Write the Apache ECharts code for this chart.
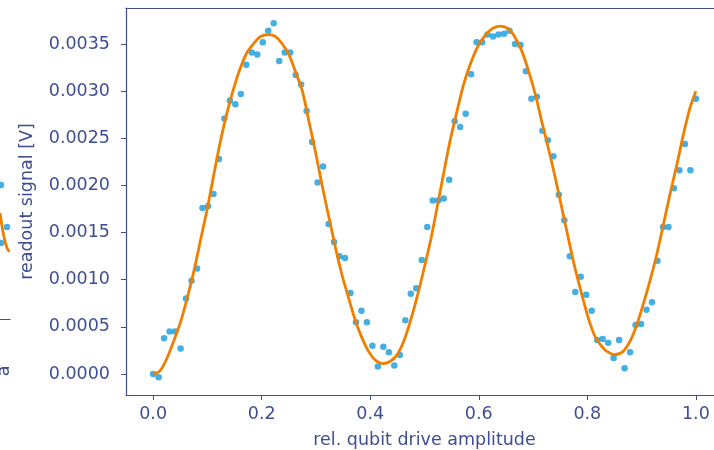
<!DOCTYPE html>
<html>
<head>
<meta charset="utf-8">
<script src="https://cdn.jsdelivr.net/npm/echarts@6/dist/echarts.min.js"></script>
<style>
html, body { margin: 0; padding: 0; background: #fff; }
#chart { width: 714px; height: 450px; }
</style>
</head>
<body>
<div id="chart"></div>
<script>
// measured points (amplitude, signal)
const ampX = [
  0, 0.0101, 0.0202, 0.0303, 0.0404, 0.0505, 0.0606, 0.0707, 0.0808, 0.0909,
  0.1010, 0.1111, 0.1212, 0.1313, 0.1414, 0.1515, 0.1616, 0.1717, 0.1818, 0.1919,
  0.2020, 0.2121, 0.2222, 0.2323, 0.2424, 0.2525, 0.2626, 0.2727, 0.2828, 0.2929,
  0.3030, 0.3131, 0.3232, 0.3333, 0.3434, 0.3535, 0.3636, 0.3737, 0.3838, 0.3939,
  0.4040, 0.4141, 0.4242, 0.4343, 0.4444, 0.4545, 0.4646, 0.4747, 0.4848, 0.4949,
  0.5051, 0.5152, 0.5253, 0.5354, 0.5455, 0.5556, 0.5657, 0.5758, 0.5859, 0.5960,
  0.6061, 0.6162, 0.6263, 0.6364, 0.6465, 0.6566, 0.6667, 0.6768, 0.6869, 0.6970,
  0.7071, 0.7172, 0.7273, 0.7374, 0.7475, 0.7576, 0.7677, 0.7778, 0.7879, 0.7980,
  0.8081, 0.8182, 0.8283, 0.8384, 0.8485, 0.8586, 0.8687, 0.8788, 0.8889, 0.8990,
  0.9091, 0.9192, 0.9293, 0.9394, 0.9495, 0.9596, 0.9697, 0.9798, 0.9899, 1.0
];
const signal = [
  0.00000, -0.000035, 0.00038, 0.00045, 0.00045, 0.00027, 0.00080, 0.00099, 0.00112, 0.00176,
  0.00178, 0.00191, 0.00228, 0.00271, 0.00290, 0.00286, 0.00297, 0.00328, 0.00341, 0.00339,
  0.00352, 0.00364, 0.00372, 0.00332, 0.00341, 0.00341, 0.00317, 0.00307, 0.00279, 0.00246,
  0.00203, 0.00220, 0.00159, 0.00140, 0.00125, 0.00123, 0.00086, 0.00055, 0.00067, 0.00055,
  0.00030, 0.00008, 0.00029, 0.00023, 0.00009, 0.00020, 0.00057, 0.00085, 0.00091, 0.00121,
  0.00156, 0.00184, 0.00184, 0.00186, 0.00206, 0.00268, 0.00262, 0.00276, 0.00318, 0.00352,
  0.00352, 0.00360, 0.00358, 0.00360, 0.00361, 0.00364, 0.00350, 0.00349, 0.00321, 0.00292,
  0.00294, 0.00258, 0.00248, 0.00231, 0.00190, 0.00163, 0.00125, 0.00087, 0.00103, 0.00084,
  0.00067, 0.00036, 0.00037, 0.00033, 0.00017, 0.00036, 0.00006, 0.00023, 0.00052, 0.00053,
  0.00068, 0.00076, 0.00120, 0.00156, 0.00156, 0.00197, 0.00216, 0.00244, 0.00216, 0.00292
];

// fitted curve
const fitX = [
  0.000, 0.012, 0.023, 0.038, 0.051, 0.063, 0.075, 0.087, 0.100, 0.112,
  0.124, 0.137, 0.149, 0.161, 0.173, 0.186, 0.198, 0.213, 0.225, 0.238,
  0.250, 0.262, 0.275, 0.287, 0.299, 0.311, 0.324, 0.336, 0.348, 0.360,
  0.373, 0.385, 0.397, 0.409, 0.424, 0.437, 0.449, 0.462, 0.474, 0.486,
  0.498, 0.511, 0.523, 0.535, 0.547, 0.560, 0.572, 0.584, 0.597, 0.609,
  0.624, 0.639, 0.655, 0.667, 0.679, 0.692, 0.704, 0.716, 0.728, 0.741,
  0.753, 0.765, 0.777, 0.790, 0.802, 0.814, 0.827, 0.836, 0.851, 0.866,
  0.879, 0.891, 0.903, 0.915, 0.928, 0.940, 0.952, 0.965, 0.977, 0.989, 1.000
];
const fitY = [
  0.00000, 0.00003, 0.000135, 0.00035, 0.00056, 0.00081, 0.00109, 0.00141, 0.00176, 0.00212,
  0.00247, 0.00279, 0.00304, 0.00325, 0.00341, 0.00351, 0.00358, 0.00360, 0.00358, 0.00350,
  0.00339, 0.00321, 0.00300, 0.00268, 0.00236, 0.00201, 0.00166, 0.00134, 0.00105, 0.00081,
  0.00056, 0.00038, 0.00024, 0.00015, 0.00011, 0.000135, 0.00020, 0.00035, 0.00056, 0.00081,
  0.00109, 0.00141, 0.00176, 0.00212, 0.00247, 0.00279, 0.00307, 0.00328, 0.00346, 0.00357,
  0.00366, 0.00369, 0.00366, 0.00357, 0.00343, 0.00321, 0.00297, 0.00268, 0.00240, 0.00208,
  0.00176, 0.00144, 0.00113, 0.00084, 0.00059, 0.00040, 0.00029, 0.00024, 0.000205, 0.00024,
  0.00035, 0.00052, 0.00074, 0.00098, 0.00127, 0.00158, 0.00190, 0.00222, 0.00254, 0.00282, 0.00300
];

const xTicks = [0, 0.2, 0.4, 0.6, 0.8, 1.0];
const yTicks = [0, 0.0005, 0.0010, 0.0015, 0.0020, 0.0025, 0.0030, 0.0035];

// bit of the neighbouring figure that shows at the left edge
const fragX = [0, 0.3, 0.6, 0.8, 1.0];
const fragY = [0.627, 0.515, 0.438, 0.408, 0.402];
const fragDotX = [0.1, 0.7, 0.1];
const fragDotY = [0.45, 0.544, 0.793];

const axisColor = "#3f4d93";
const font = "DejaVu Sans";
const fontSize = 17.5;

const chart = echarts.init(document.getElementById("chart"));

const option = {
  animation: false,
  backgroundColor: "#fff",
  textStyle: { fontFamily: font },
  grid: [
    { left: 126, top: 8, width: 597, height: 387, outerBoundsMode: "none", containLabel: false },
    { left: 0, top: 150, width: 10, height: 169, outerBoundsMode: "none", containLabel: false },
  ],
  xAxis: [
    {
      type: "value",
      gridIndex: 0,
      min: -0.05,
      max: 1.05,
      name: "rel. qubit drive amplitude",
      nameLocation: "middle",
      nameGap: 36,
      nameTextStyle: { color: axisColor, fontSize: fontSize, fontFamily: font },
      axisLine: { show: true, onZero: false, lineStyle: { color: axisColor, width: 1.2 } },
      axisTick: { show: true, length: 5, customValues: xTicks, lineStyle: { color: axisColor } },
      axisLabel: {
        customValues: xTicks,
        color: axisColor,
        fontSize: fontSize,
        fontFamily: font,
        margin: 10,
        formatter: (v) => v.toFixed(1),
      },
      splitLine: { show: false },
    },
    {
      type: "value",
      gridIndex: 0,
      position: "top",
      min: -0.05,
      max: 1.05,
      axisLine: { show: true, onZero: false, lineStyle: { color: axisColor, width: 1.2 } },
      axisTick: { show: false },
      axisLabel: { show: false },
      splitLine: { show: false },
    },
    {
      type: "value",
      gridIndex: 1,
      min: 0,
      max: 1,
      axisLine: { show: true, onZero: false, lineStyle: { color: axisColor, width: 1.2 } },
      axisTick: { show: false },
      axisLabel: { show: false },
      splitLine: { show: false },
    },
  ],
  yAxis: [
    {
      type: "value",
      gridIndex: 0,
      min: -0.000223,
      max: 0.003882,
      name: "readout signal [V]",
      nameLocation: "middle",
      nameGap: 90,
      nameTextStyle: { color: axisColor, fontSize: fontSize, fontFamily: font },
      axisLine: { show: true, onZero: false, lineStyle: { color: axisColor, width: 1.2 } },
      axisTick: { show: true, length: 5, customValues: yTicks, lineStyle: { color: axisColor } },
      axisLabel: {
        customValues: yTicks,
        color: axisColor,
        fontSize: fontSize,
        fontFamily: font,
        margin: 16,
        formatter: (v) => v.toFixed(4),
      },
      splitLine: { show: false },
    },
    {
      type: "value",
      gridIndex: 1,
      min: 0,
      max: 1,
      show: false,
    },
  ],
  graphic: [
    {
      type: "text",
      x: 4,
      y: 371,
      rotation: Math.PI / 2,
      style: {
        text: "a",
        fill: axisColor,
        font: fontSize + "px " + font,
        textAlign: "center",
        textVerticalAlign: "middle",
      },
    },
  ],
  series: [
    {
      type: "scatter",
      xAxisIndex: 0,
      yAxisIndex: 0,
      symbolSize: 6.5,
      itemStyle: { color: "#189bdb" },
      data: ampX.map((x, i) => [x, signal[i]]),
      z: 2,
    },
    {
      type: "line",
      xAxisIndex: 0,
      yAxisIndex: 0,
      showSymbol: false,
      smooth: 0.3,
      lineStyle: { color: "#f07f00", width: 2.8 },
      data: fitX.map((x, i) => [x, fitY[i]]),
      z: 3,
    },
    {
      type: "scatter",
      xAxisIndex: 2,
      yAxisIndex: 1,
      symbolSize: 6.5,
      itemStyle: { color: "#189bdb" },
      data: fragDotX.map((x, i) => [x, fragDotY[i]]),
    },
    {
      type: "line",
      xAxisIndex: 2,
      yAxisIndex: 1,
      showSymbol: false,
      smooth: 0.3,
      lineStyle: { color: "#f07f00", width: 2.8 },
      data: fragX.map((x, i) => [x, fragY[i]]),
    },
  ],
};

chart.setOption(option);
</script>
</body>
</html>
